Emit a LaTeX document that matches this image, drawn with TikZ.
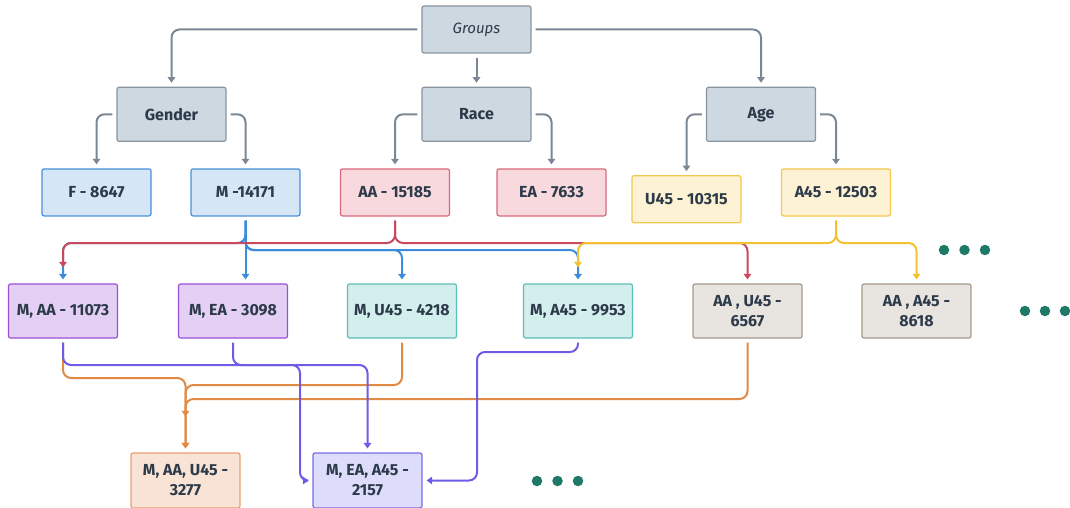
\documentclass[tikz,border=0pt]{standalone}
\usepackage{fontspec}
\setmainfont{Fira Sans}
\usetikzlibrary{arrows.meta}
\definecolor{txt}{HTML}{2D3A4A}
\definecolor{gfill}{HTML}{CED8E0}
\definecolor{gline}{HTML}{8A949E}
\definecolor{conn}{HTML}{7B8794}
\definecolor{bfill}{HTML}{D5E6F7}
\definecolor{bline}{HTML}{4A90D9}
\definecolor{rfill}{HTML}{F7D9DE}
\definecolor{rline}{HTML}{D9687A}
\definecolor{yfill}{HTML}{FDF2D3}
\definecolor{yline}{HTML}{F3C74D}
\definecolor{pfill}{HTML}{E4D0F4}
\definecolor{pline}{HTML}{9B4FD6}
\definecolor{tfill}{HTML}{D2EFEE}
\definecolor{tline}{HTML}{5CBDB5}
\definecolor{kfill}{HTML}{E8E4DF}
\definecolor{kline}{HTML}{A39A8B}
\definecolor{ofill}{HTML}{F9E3D4}
\definecolor{oline}{HTML}{E8A070}
\definecolor{lfill}{HTML}{DDDCFB}
\definecolor{lline}{HTML}{7A6BE8}
\definecolor{cblue}{HTML}{3B8DDB}
\definecolor{cred}{HTML}{C94A5E}
\definecolor{cyel}{HTML}{F2C232}
\definecolor{cpur}{HTML}{6C5CE7}
\definecolor{cora}{HTML}{E08A44}
\definecolor{dotc}{HTML}{1E7A66}
\tikzset{
  box/.style={draw, line width=1.2pt, rounded corners=2pt, minimum width=109pt, minimum height=47pt,
    font=\bfseries\fontsize{16}{20}\selectfont, text=txt, align=center, inner sep=2pt},
  graybox/.style={box, fill=gfill, draw=gline},
  bluebox/.style={box, fill=bfill, draw=bline},
  redbox/.style={box, fill=rfill, draw=rline},
  yelbox/.style={box, fill=yfill, draw=yline},
  purbox/.style={box, fill=pfill, draw=pline, minimum height=54pt},
  tealbox/.style={box, fill=tfill, draw=tline, minimum height=54pt},
  taupebox/.style={box, fill=kfill, draw=kline, minimum height=54pt},
  orabox/.style={box, fill=ofill, draw=oline, minimum height=55pt},
  lavbox/.style={box, fill=lfill, draw=lline, minimum height=55pt},
  conn/.style={line width=2pt, rounded corners=8pt, shorten <=4pt, shorten >=4pt,
    -{Triangle[width=7.5pt,length=5.5pt]}},
  garrow/.style={conn, draw=conn},
  barrow/.style={conn, draw=cblue},
  rarrow/.style={conn, draw=cred},
  yarrow/.style={conn, draw=cyel},
  parrow/.style={conn, draw=cpur},
  oarrow/.style={conn, draw=cora},
  dot/.style={circle, fill=dotc, inner sep=0pt, minimum size=10.5pt}
}
\begin{document}
\begin{tikzpicture}[x=1pt,y=-1pt]
\useasboundingbox (0,0) rectangle (1070,508);
% level 0/1
\node[graybox, font=\itshape\fontsize{15}{18}\selectfont] (groups) at (476.5,29.5) {Groups};
\node[graybox, minimum height=54pt] (gender) at (171.5,114.3) {Gender};
\node[graybox, minimum height=54pt] (race) at (476.5,114.3) {Race};
\node[graybox, minimum height=54pt] (age) at (761,114.3) {Age};
% level 2
\node[bluebox] (f) at (96.5,192.4) {F - 8647};
\node[bluebox] (m) at (245.5,192.4) {M -14171};
\node[redbox] (aa) at (395,192.4) {AA - 15185};
\node[redbox] (ea) at (551.5,192.4) {EA - 7633};
\node[yelbox] (u45) at (686.5,199.2) {U45 - 10315};
\node[yelbox] (a45) at (836,192.4) {A45 - 12503};
% level 3
\node[purbox] (maa) at (63,311) {M, AA - 11073};
\node[purbox] (mea) at (233,311) {M, EA - 3098};
\node[tealbox] (mu) at (402,311) {M, U45 - 4218};
\node[tealbox] (ma) at (578,311) {M, A45 - 9953};
\node[taupebox] (auu) at (747.5,311) {AA , U45 -\\6567};
\node[taupebox] (aaa) at (916.5,311) {AA , A45 -\\8618};
% level 4
\node[orabox] (mau) at (185.5,480.5) {M, AA, U45 -\\3277};
\node[lavbox] (meaa) at (367.5,480.5) {M, EA, A45 -\\2157};
% dots
\node[dot] (d1) at (944,250) {};
\node[dot] (d2) at (964.5,250) {};
\node[dot] (d3) at (985,250) {};
\node[dot] (d4) at (1025,311) {};
\node[dot] (d5) at (1045,311) {};
\node[dot] (d6) at (1065,311) {};
\node[dot] (d7) at (537,481) {};
\node[dot] (d8) at (557.5,481) {};
\node[dot] (d9) at (578,481) {};
% bus coordinates
\coordinate (busR) at (0,243);
\coordinate (busB) at (0,250);
\coordinate (busQ) at (0,352);
\coordinate (busP) at (0,365);
\coordinate (busO1) at (0,378);
\coordinate (busO2) at (0,385);
\coordinate (busO3) at (0,399);
\coordinate (pX) at (300,0);
\coordinate (qX) at (477,0);
% gray tree
\draw[garrow] (groups.west) -| (gender.north);
\draw[garrow] (groups.south) -- (race.north);
\draw[garrow] (groups.east) -| (age.north);
\draw[garrow] (gender.west) -| (f.north);
\draw[garrow] (gender.east) -| (m.north);
\draw[garrow] (race.west) -| (aa.north);
\draw[garrow] (race.east) -| (ea.north);
\draw[garrow] (age.west) -| (u45.north);
\draw[garrow] (age.east) -| (a45.north);
% blue
\draw[barrow] (m.south) |- (busR -| maa.north) -- (maa.north);
\draw[barrow] (m.south) -- (m.south |- mea.north);
\draw[barrow] (m.south) |- (busB -| mu.north) -- (mu.north);
\draw[barrow] (m.south) |- (busB -| ma.north) -- (ma.north);
% red
\draw[rarrow, shorten >=16pt] (aa.south) |- (busR -| maa.north) -- (maa.north);
\draw[rarrow] (aa.south) |- (busR -| auu.north) -- (auu.north);
% yellow
\draw[yarrow, shorten >=16pt] (a45.south) |- (busR -| ma.north) -- (ma.north);
\draw[yarrow] (a45.south) |- (busR -| aaa.north) -- (aaa.north);
% orange
\draw[oarrow, shorten >=36pt] (maa.south) |- (busO1 -| mau.north) -- (mau.north);
\draw[oarrow] (mu.south) |- (busO2 -| mau.north) -- (mau.north);
\draw[oarrow] (auu.south) |- (busO3 -| mau.north) -- (mau.north);
% purple
\draw[parrow] (maa.south) |- (busP -| pX) |- (meaa.west);
\draw[parrow] (mea.south) |- (busP -| meaa.north) -- (meaa.north);
\draw[parrow] (ma.south) |- (busQ -| qX) |- (meaa.east);
\end{tikzpicture}
\end{document}
